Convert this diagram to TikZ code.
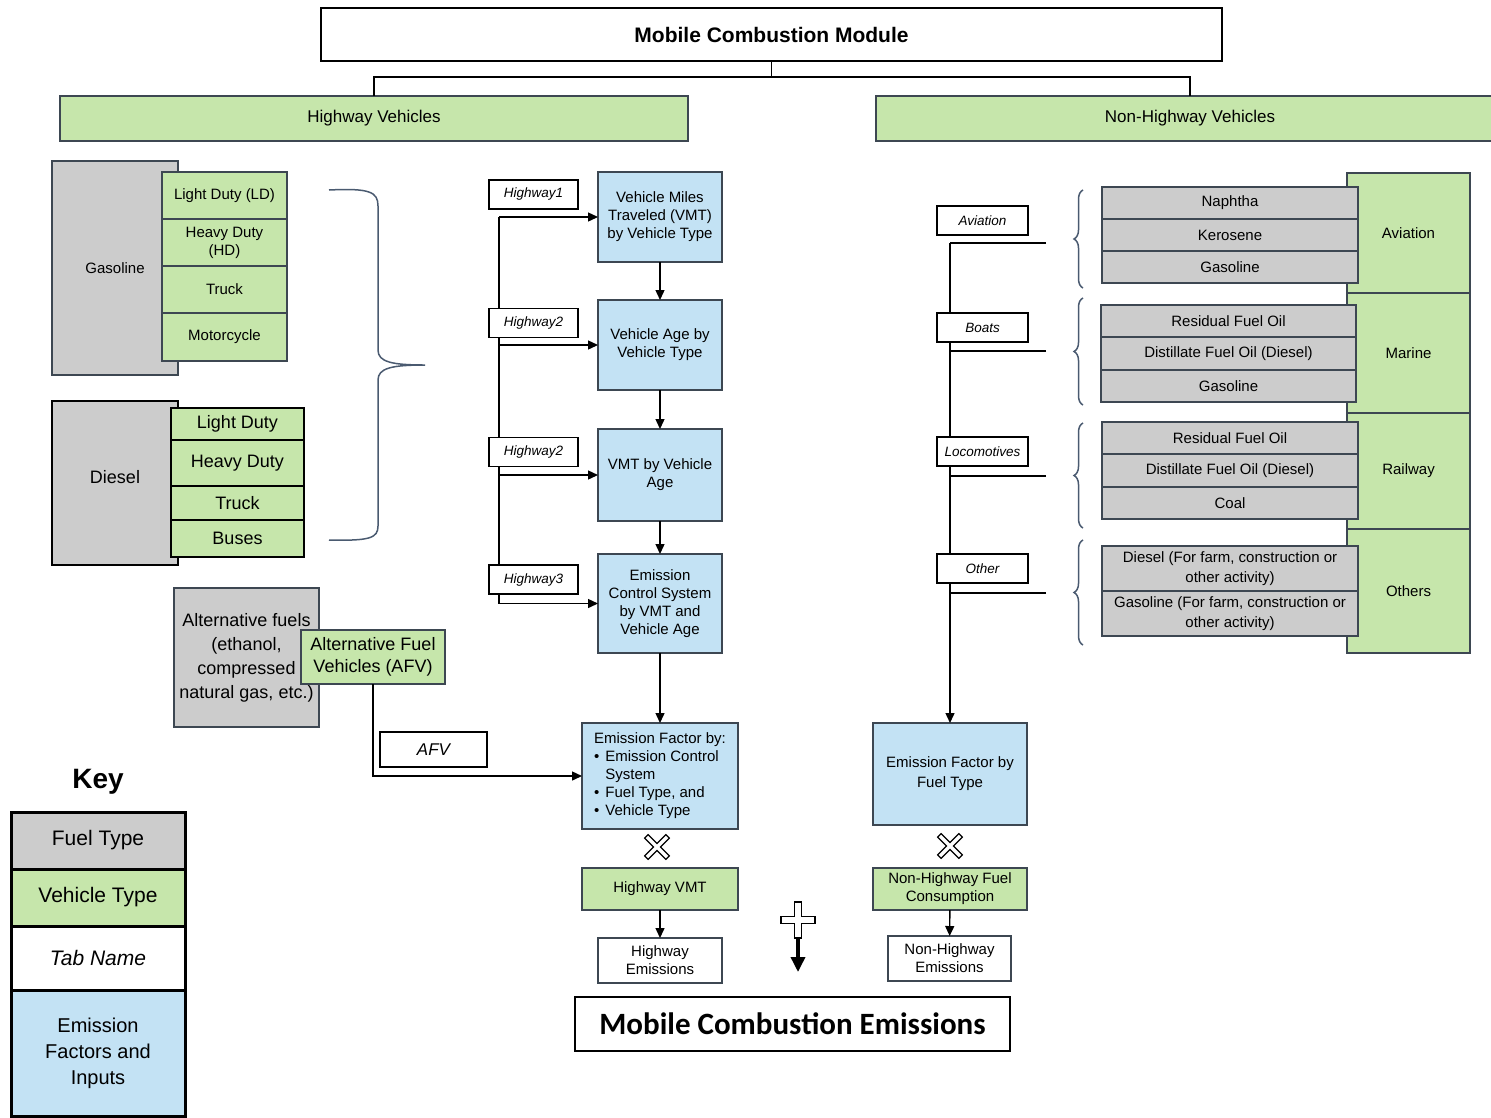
\documentclass[tikz,border=0pt]{standalone}
\usepackage{fontspec}
\setmainfont{Liberation Sans}
\newfontfamily\calibfont{Carlito}
\usetikzlibrary{positioning,arrows.meta,decorations.pathreplacing}

\definecolor{fuelgray}{HTML}{CCCCCC}
\definecolor{vehgreen}{HTML}{C6E6AB}
\definecolor{inblue}{HTML}{C3E2F4}
\definecolor{edge}{HTML}{3D4752}
\definecolor{bracecol}{HTML}{4A5A70}

\newcommand{\sz}[2]{\fontsize{#1}{#2}\selectfont}

\tikzstyle{cell}=[draw=edge, line width=1.8pt, inner sep=0pt, outer sep=0pt, align=center, font=\sz{15}{18}]
\tikzstyle{fuel}=[cell, fill=fuelgray]
\tikzstyle{veh}=[cell, fill=vehgreen]
\tikzstyle{inp}=[cell, fill=inblue]
\tikzstyle{tabname}=[draw=black, line width=1.2pt, fill=white, inner sep=0pt, font=\sz{13.5}{16}\itshape, minimum width=89pt, minimum height=29pt]
\tikzstyle{dslrow}=[veh, draw=black, line width=2.5pt, minimum width=133pt, font=\sz{18}{22}]
\tikzstyle{fuelrow}=[fuel, minimum width=256pt, minimum height=32pt]
\tikzstyle{keybox}=[cell, draw=black, line width=3pt, minimum width=174pt, font=\sz{21}{26}]
\tikzstyle{conn}=[line width=1.4pt]
\tikzstyle{flow}=[conn, -{Triangle[length=10pt,width=9pt]}]
\tikzstyle{crossmark}=[draw=black, fill=white, line width=1.2pt, line join=miter]
\tikzstyle{fbrace}=[draw=bracecol, line width=1.5pt, decorate, decoration={brace, amplitude=9pt}]

\begin{document}
\begin{tikzpicture}[x=1pt, y=-1pt]
	\useasboundingbox (0,0) rectangle (1491,1117);

	% module and the two branches
	\node[cell, draw=black, line width=2pt, fill=white, minimum width=901pt, minimum height=53pt, font=\sz{21}{25}\bfseries] (module) at (771.5,34.5) {Mobile Combustion Module};
	\node[veh, minimum width=628pt, minimum height=45pt, font=\sz{17}{20}] (hwy) at (374,118.5) {Highway Vehicles};
	\node[veh, minimum width=628pt, minimum height=45pt, font=\sz{17}{20}] (nonhwy) at (1190,118.5) {Non-Highway Vehicles};
	\coordinate (split) at (771.5,77);
	\draw[conn] (module.south) -- (split);
	\draw[conn] (split) -| (hwy.north);
	\draw[conn] (split) -| (nonhwy.north);

	% highway fuels and vehicles
	\node[fuel, minimum width=126pt, minimum height=214pt] (gas) at (115,268) {Gasoline};
	\node[veh, minimum width=125pt, minimum height=47pt] (gasld) at (224.5,195.5) {Light Duty (LD)};
	\node[veh, minimum width=125pt, minimum height=47pt, below=0pt of gasld] (gashd) {Heavy Duty\\(HD)};
	\node[veh, minimum width=125pt, minimum height=47pt, below=0pt of gashd] (gastr) {Truck};
	\node[veh, minimum width=125pt, minimum height=48pt, below=0pt of gastr] (gasmc) {Motorcycle};

	\node[fuel, draw=black, line width=2.5pt, minimum width=126pt, minimum height=164pt, font=\sz{18}{22}] (dsl) at (115,483) {\raisebox{13pt}{Diesel}};
	\node[dslrow, minimum height=32pt] (dslld) at (237.5,424) {Light Duty};
	\node[dslrow, minimum height=46pt, below=0pt of dslld] (dslhd) {Heavy Duty};
	\node[dslrow, minimum height=34pt, below=0pt of dslhd] (dsltr) {Truck};
	\node[dslrow, minimum height=37pt, below=0pt of dsltr] (dslbus) {Buses};

	\draw[draw=bracecol, line width=1.5pt] (329,190) .. controls (370,188) and (378,192) .. (378,206) -- (378,350) .. controls (378,362) and (392,365) .. (425,365) .. controls (392,365) and (378,368) .. (378,380) -- (378,526) .. controls (378,538) and (370,541) .. (329,540);

	\node[fuel, minimum width=145pt, minimum height=139pt, font=\sz{18}{24}] (altfuel) at (246.5,657.5) {Alternative fuels\\(ethanol,\\compressed\\natural gas, etc.)};
	\node[veh, minimum width=144pt, minimum height=54pt, font=\sz{18}{22}] (afv) at (373,657) {Alternative Fuel\\Vehicles (AFV)};

	% highway inputs
	\node[inp, minimum width=124pt, minimum height=90pt] (vmt) at (660,217) {Vehicle Miles\\Traveled (VMT)\\by Vehicle Type};
	\node[inp, minimum width=124pt, minimum height=90pt] (vage) at (660,345) {Vehicle Age by\\Vehicle Type};
	\node[inp, minimum width=124pt, minimum height=92pt] (vmtage) at (660,475) {VMT by Vehicle\\Age};
	\node[inp, minimum width=124pt, minimum height=99pt] (ecs) at (660,603.5) {Emission\\Control System\\by VMT and\\Vehicle Age};
	\node[inp, minimum width=156pt, minimum height=106pt, align=left] (ef) at (660,776) {Emission Factor by:\\\textbullet\hspace{6pt}Emission Control\\\phantom{\textbullet}\hspace{6pt}System\\\textbullet\hspace{6pt}Fuel Type, and\\\textbullet\hspace{6pt}Vehicle Type};
	\draw[flow] (vmt) -- (vage);
	\draw[flow] (vage) -- (vmtage);
	\draw[flow] (vmtage) -- (ecs);
	\draw[flow] (ecs) -- (ef);

	\coordinate (rail) at (499,217);
	\draw[conn] (rail) -- (rail |- ecs.west);
	\foreach \b in {vmt,vage,vmtage,ecs}
		\draw[flow] (rail |- \b.west) -- (\b.west);
	\node[tabname] (tab1) at (533.5,194.5) {Highway1};
	\node[tabname] (tab2) at (533.5,323) {Highway2};
	\node[tabname] (tab3) at (533.5,452) {Highway2};
	\node[tabname] (tab4) at (533.5,579.5) {Highway3};

	\draw[flow] (afv.south) |- (ef.west);
	\node[tabname, minimum width=107pt, minimum height=35pt, font=\sz{17}{20}\itshape] (afvtab) at (433.5,749.5) {AFV};

	\draw[crossmark, shift={(657,847)}, rotate=45] (-2.5,-15) -- (2.5,-15) -- (2.5,-2.5) -- (15,-2.5) -- (15,2.5) -- (2.5,2.5) -- (2.5,15) -- (-2.5,15) -- (-2.5,2.5) -- (-15,2.5) -- (-15,-2.5) -- (-2.5,-2.5) -- cycle;
	\node[veh, minimum width=156pt, minimum height=42pt] (hvmt) at (660,889) {Highway VMT};
	\node[cell, fill=white, minimum width=124pt, minimum height=45pt] (hem) at (660,960.5) {Highway\\Emissions};
	\draw[flow] (hvmt) -- (hem);

	% non-highway vehicles and fuels
	\node[veh, minimum width=123pt, minimum height=120pt] (aviation) at (1408.5,233) {Aviation};
	\node[veh, minimum width=123pt, minimum height=120pt, below=0pt of aviation] (marine) {Marine};
	\node[veh, minimum width=123pt, minimum height=116pt, below=0pt of marine] (railway) {Railway};
	\node[veh, minimum width=123pt, minimum height=124pt, below=0pt of railway] (others) {Others};

	\node[fuelrow] (naphtha) at (1230,203) {Naphtha};
	\node[fuelrow, below=0pt of naphtha] (kerosene) {Kerosene};
	\node[fuelrow, below=0pt of kerosene] (avgas) {Gasoline};
	\node[fuelrow, minimum width=255pt] (mresid) at (1228.5,321) {Residual Fuel Oil};
	\node[fuelrow, minimum width=255pt, minimum height=33pt, below=0pt of mresid] (mdist) {Distillate Fuel Oil (Diesel)};
	\node[fuelrow, minimum width=255pt, below=0pt of mdist] (mgas) {Gasoline};
	\node[fuelrow] (rresid) at (1230,438) {Residual Fuel Oil};
	\node[fuelrow, minimum height=33pt, below=0pt of rresid] (rdist) {Distillate Fuel Oil (Diesel)};
	\node[fuelrow, below=0pt of rdist] (coal) {Coal};
	\node[fuelrow, minimum height=45pt, font=\sz{15}{20}] (odsl) at (1230,568.5) {Diesel (For farm, construction or\\other activity)};
	\node[fuelrow, minimum height=45pt, font=\sz{15}{20}, below=0pt of odsl] (ogas) {Gasoline (For farm, construction or\\other activity)};

	\draw[fbrace] (1083,288) -- (1083,190);
	\draw[fbrace] (1083,405) -- (1083,298);
	\draw[fbrace] (1083,528) -- (1083,423);
	\draw[fbrace] (1083,645) -- (1083,540);

	% non-highway inputs
	\node[inp, minimum width=154pt, minimum height=102pt, font=\sz{15}{20}] (eff) at (950,774) {Emission Factor by\\Fuel Type};
	\foreach \y [count=\i] in {243,351,476,593}
		\coordinate (stub\i) at (1046,\y);
	\draw[flow] (stub1 -| eff.north) -- (eff.north);
	\foreach \i in {1,...,4}
		\draw[conn] (stub\i) -- (stub\i -| eff.north);
	\node[tabname, minimum width=91pt] (tabav) at (982.5,220.5) {Aviation};
	\node[tabname, minimum width=91pt] (tabbo) at (982.5,327.5) {Boats};
	\node[tabname, minimum width=91pt] (tablo) at (982.5,451.5) {Locomotives};
	\node[tabname, minimum width=91pt] (tabot) at (982.5,568.5) {Other};

	\draw[crossmark, shift={(950,846)}, rotate=45] (-2.5,-15) -- (2.5,-15) -- (2.5,-2.5) -- (15,-2.5) -- (15,2.5) -- (2.5,2.5) -- (2.5,15) -- (-2.5,15) -- (-2.5,2.5) -- (-15,2.5) -- (-15,-2.5) -- (-2.5,-2.5) -- cycle;
	\node[veh, minimum width=154pt, minimum height=42pt] (nhfuel) at (950,889) {Non-Highway Fuel\\Consumption};
	\node[cell, fill=white, minimum width=123pt, minimum height=45pt] (nhem) at (949.5,958.5) {Non-Highway\\Emissions};
	\draw[flow] (nhfuel) -- (nhem);

	% sum of both
	\draw[crossmark, shift={(798,920)}] (-3.5,-18) -- (3.5,-18) -- (3.5,-3.5) -- (17,-3.5) -- (17,3.5) -- (3.5,3.5) -- (3.5,18) -- (-3.5,18) -- (-3.5,3.5) -- (-17,3.5) -- (-17,-3.5) -- (-3.5,-3.5) -- cycle;
	\coordinate (plusfoot) at (798,938);
	\coordinate (sumtip) at (798,972);
	\draw[line width=3.5pt, -{Triangle[length=15pt,width=14pt]}] (plusfoot) -- (sumtip);
	\node[cell, draw=black, line width=2pt, fill=white, minimum width=435pt, minimum height=54pt, font=\calibfont\bfseries\sz{31}{35}] (total) at (792.5,1024) {Mobile Combustion Emissions};

	% key
	\node[font=\sz{28}{32}\bfseries] (keytitle) at (98,782) {Key};
	\node[keybox, fill=fuelgray, minimum height=57pt] (kfuel) at (98,840.5) {Fuel Type};
	\node[keybox, fill=vehgreen, minimum height=57pt, below=0pt of kfuel] (kveh) {Vehicle Type};
	\node[keybox, fill=white, minimum height=64pt, font=\sz{21}{26}\itshape, below=0pt of kveh] (ktab) {Tab Name};
	\node[keybox, fill=inblue, minimum height=126pt, font=\sz{20}{26}, below=0pt of ktab] (kin) {Emission\\Factors and\\Inputs};
\end{tikzpicture}
\end{document}
